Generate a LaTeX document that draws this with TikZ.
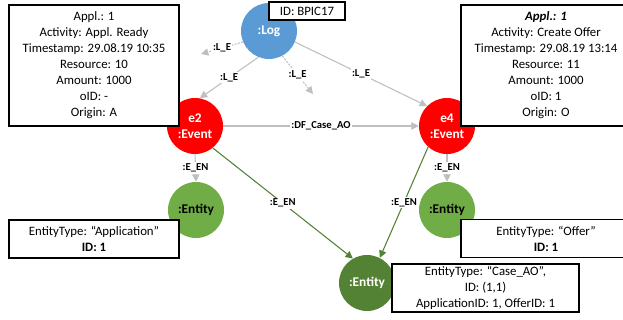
\documentclass[tikz,border=0pt]{standalone}
\usepackage{fontspec}
\setmainfont{Carlito}
\usetikzlibrary{positioning,arrows.meta}
\definecolor{logblue}{HTML}{5B9BD5}
\definecolor{eventred}{HTML}{FF0000}
\definecolor{entgreen}{HTML}{70AD47}
\definecolor{casegreen}{HTML}{548235}
\definecolor{relgray}{HTML}{BFBFBF}

\begin{document}
\begin{tikzpicture}[
  x=0.75pt,y=-0.75pt,
  every node/.style={font=\fontsize{9.6}{12}\selectfont},
  graphnode/.style={circle,minimum size=42pt,inner sep=0pt,align=center,font=\fontsize{10}{12}\selectfont\bfseries},
  lognode/.style={graphnode,fill=logblue,text=white},
  event/.style={graphnode,fill=eventred,text=white},
  entity/.style={graphnode,fill=entgreen,text=black},
  caseentity/.style={graphnode,fill=casegreen,text=white},
  attr/.style={draw,fill=white,line width=0.8pt,align=center,inner sep=0pt},
  rel/.style={fill=white,inner sep=1pt,font=\fontsize{8}{9}\selectfont\bfseries},
  hint/.style={dash pattern=on 1.5pt off 1pt},
  own/.style={draw=casegreen},
  every edge/.style={draw=relgray,line width=0.8pt,-{Triangle[length=5.5pt,width=5.5pt]}},
]
  \useasboundingbox (0,0) rectangle (623,320);

  % Graph nodes
  \node[lognode] (log) at (269,31) {:Log};
  \node[event] (e2) at (195,126) {e2\\:Event};
  \node[event] (e4) at (447,126) {e4\\:Event};
  \node[entity] (entA) at (196,210) {:Entity};
  \node[entity] (entO) at (447,210) {:Entity};
  \node[caseentity] (caseAO) at (367,283) {:Entity};

  % Property boxes
  \node[attr,minimum width=57pt,minimum height=13.5pt] (logid) at (307,11) {ID: BPIC17};
  \node[attr,minimum width=127.5pt,minimum height=90.75pt] (propE2) at (94,65.5)
    {Appl.: 1\\Activity: Appl. Ready\\Timestamp: 29.08.19 10:35\\Resource: 10\\Amount: 1000\\oID: -\\Origin: A};
  \node[attr,minimum width=127.5pt,minimum height=90.75pt] (propE4) at (546,65.5)
    {\textbf{\textit{Appl.: 1}}\\Activity: Create Offer\\Timestamp: 29.08.19 13:14\\Resource: 11\\Amount: 1000\\oID: 1\\Origin: O};
  \node[attr,minimum width=127.5pt,minimum height=28.5pt] (propA) at (94,239)
    {EntityType: “Application”\\\textbf{ID: 1}};
  \node[attr,minimum width=127.5pt,minimum height=28pt] (propO) at (546,238.5)
    {EntityType: “Offer”\\\textbf{ID: 1}};
  \node[attr,minimum width=140.25pt,minimum height=36pt] (propAO) at (485.5,288)
    {EntityType: “Case\_AO”,\\ID: (1,1)\\ApplicationID: 1, OfferID: 1};

  % Free ends
  \coordinate (moreL) at (201,54);
  \coordinate (moreD) at (313,94);

  % Edges: log
  \path (log.248) edge node[rel] {:L\_E} (e2.80);
  \path (log.-23) edge node[rel] {:L\_E} (e4.135);
  \path (log.203) edge[hint] node[rel] {:L\_E} (moreL);
  \path (log.298) edge[hint] node[rel] {:L\_E} (moreD);

  % Edges: directly follows
  \path (e2.east) edge node[rel] {:DF\_Case\_AO} (e4.west);

  % Edges: entities
  \path (e2.south) edge node[rel] {:E\_EN} (entA.north);
  \path (e4.south) edge node[rel] {:E\_EN} (entO.north);
  \path (e2.-51) edge[own] node[rel] {:E\_EN} (caseAO.120);
  \path (e4.228) edge[own] node[rel] {:E\_EN} (caseAO.63);
\end{tikzpicture}
\end{document}
